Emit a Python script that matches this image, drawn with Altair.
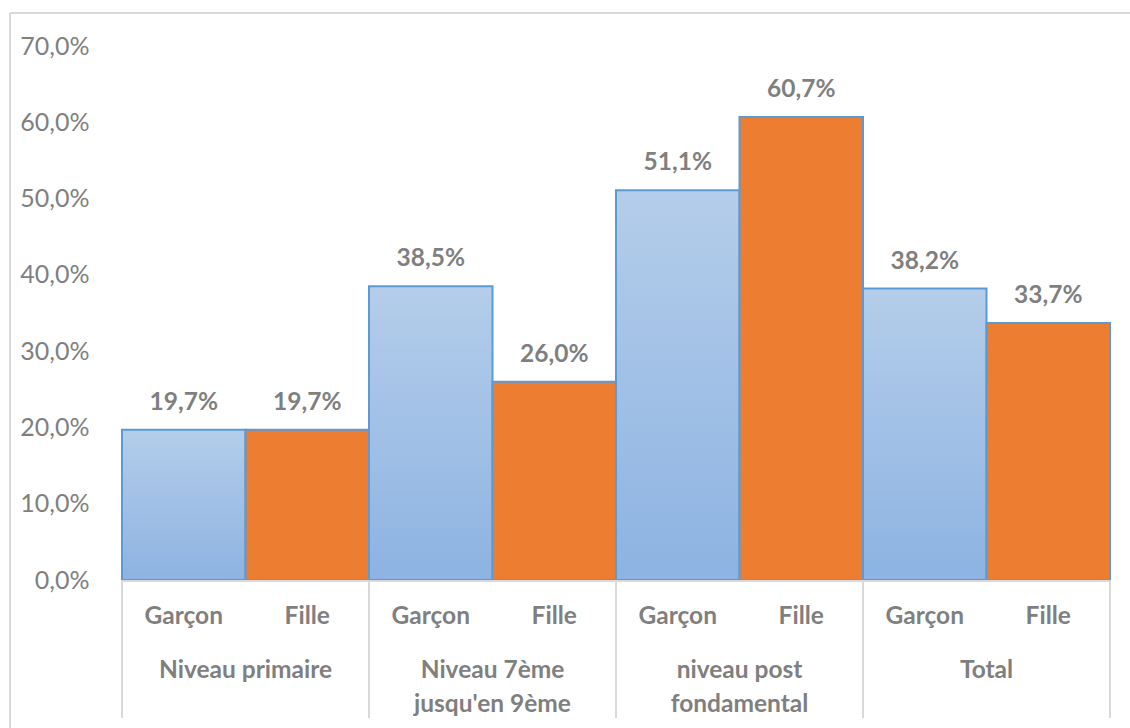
import altair as alt
import pandas as pd

groups = ["Niveau primaire", "Niveau 7ème\njusqu'en 9ème", "niveau post\nfondamental", "Total"]
sexes = ["Garçon", "Fille"]
garcon = [0.197, 0.385, 0.511, 0.382]
fille = [0.197, 0.260, 0.607, 0.337]
y_ticks = [0, 0.1, 0.2, 0.3, 0.4, 0.5, 0.6, 0.7]

rows = []
for i, g in enumerate(groups):
    for j, (s, v) in enumerate(zip(sexes, [garcon[i], fille[i]])):
        pos = i * 2 + j
        rows.append({"group": g, "sex": s, "value": v, "zero": 0.0,
                     "x0": pos, "x1": pos + 1, "xm": pos + 0.5,
                     "label": f"{v*100:.1f}%".replace(".", ",")})
df = pd.DataFrame(rows)
gdf = pd.DataFrame({"gx": [i * 2 + 1 for i in range(len(groups))],
                    "glabel": [g.split("\n") for g in groups]})
sep = pd.DataFrame({"sx": [i * 2 for i in range(len(groups) + 1)]})

W, H = 988, 534
FONT = "Lato"
GRAY = "#7f7f7f"
FS = 24.5

xs = alt.Scale(domain=[0, 8], nice=False, zero=False)
ys = alt.Scale(domain=[0, 0.7], nice=False)

base = alt.Chart(df)

garcon_bars = base.transform_filter(alt.datum.sex == "Garçon").mark_bar(
    fill=alt.Gradient(gradient="linear", x1=0, y1=0, x2=0, y2=1,
                      stops=[alt.GradientStop(color="#b4cdea", offset=0),
                             alt.GradientStop(color="#8db3e2", offset=1)]),
    stroke="#5b9bd5", strokeWidth=2
).encode(
    x=alt.X("x0:Q", scale=xs, axis=None),
    x2="x1:Q",
    y=alt.Y("value:Q", scale=ys,
            axis=alt.Axis(values=y_ticks, ticks=False, domain=False, grid=False,
                          labelExpr="replace(format(datum.value, '.1%'), '.', ',')",
                          labelFont=FONT, labelFontSize=25, labelColor=GRAY,
                          labelPadding=33, title=None)),
    y2="zero:Q",
)

fille_bars = base.transform_filter(alt.datum.sex == "Fille").mark_bar(
    fill="#ed7d31", stroke="#5b9bd5", strokeWidth=2
).encode(x=alt.X("x0:Q", scale=xs), x2="x1:Q",
         y=alt.Y("value:Q", scale=ys), y2="zero:Q")

value_labels = base.mark_text(font=FONT, fontSize=FS, fontWeight="bold", color=GRAY,
                              baseline="middle", dy=-27).encode(
    x=alt.X("xm:Q", scale=xs), y=alt.Y("value:Q", scale=ys), text="label:N")

sex_labels = base.mark_text(font=FONT, fontSize=FS, fontWeight="bold", color=GRAY,
                            baseline="middle").encode(
    x=alt.X("xm:Q", scale=xs), y=alt.value(617 - 46), text="sex:N")

group_labels = alt.Chart(gdf).mark_text(font=FONT, fontSize=FS, fontWeight="bold",
                                        color=GRAY, baseline="middle", lineHeight=34).encode(
    x=alt.X("gx:Q", scale=xs), y=alt.value(671 - 46), text="glabel")

separators = alt.Chart(sep).mark_rule(color="#d9d9d9", strokeWidth=2).encode(
    x=alt.X("sx:Q", scale=xs), y=alt.value(H), y2=alt.value(718 - 46))

baseline_rule = alt.Chart(sep).mark_rule(color="#d9d9d9", strokeWidth=2).encode(
    x=alt.value(0), x2=alt.value(W), y=alt.value(H + 1))

border_top = alt.Chart(sep).mark_rule(color="#d9d9d9", strokeWidth=2).encode(
    x=alt.value(10 - 122), x2=alt.value(1130 - 122), y=alt.value(13 - 46))
border_left = alt.Chart(sep).mark_rule(color="#d9d9d9", strokeWidth=2).encode(
    x=alt.value(10 - 122), y=alt.value(13 - 46), y2=alt.value(728 - 46))

chart = alt.layer(
    border_top, border_left, garcon_bars, fille_bars, baseline_rule, separators,
    value_labels, sex_labels, group_labels
).properties(
    width=W, height=H,
    background="white",
    autosize=alt.AutoSizeParams(type="none"),
    padding={"left": 122, "top": 46, "right": 20, "bottom": 148},
).configure_view(strokeWidth=0, stroke="transparent")

chart.save("out.html", embed_options={"renderer": "svg", "actions": False})
